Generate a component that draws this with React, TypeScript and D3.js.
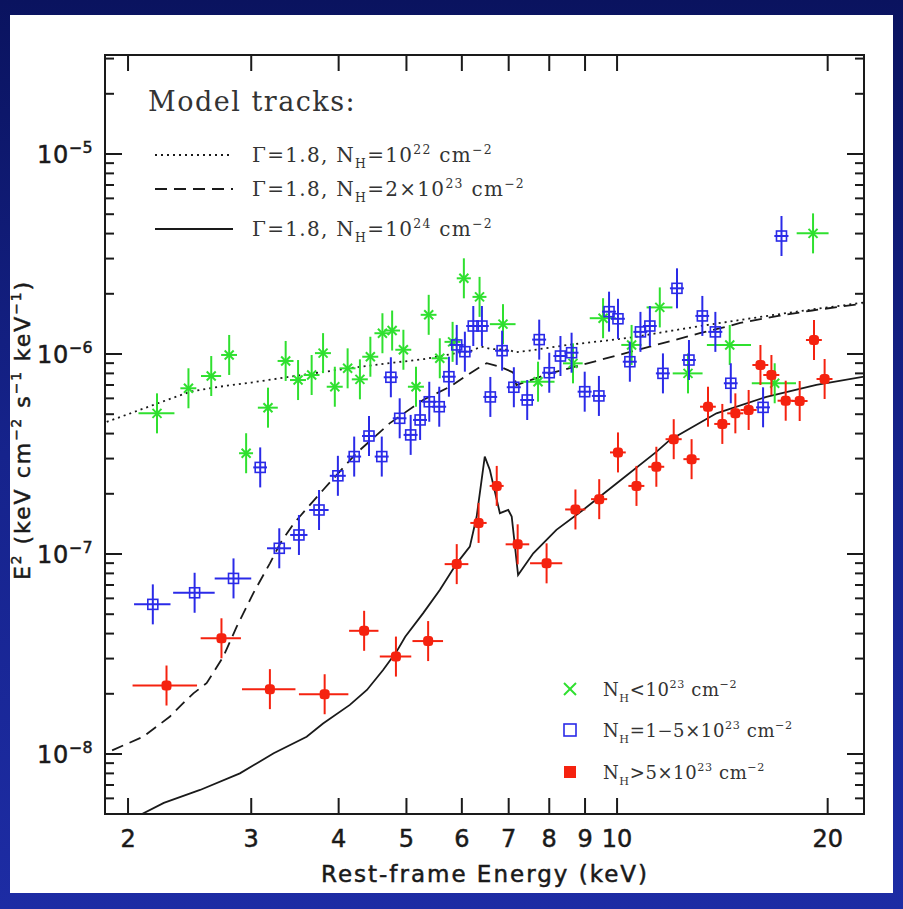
import React from "react";
import * as d3 from "d3";

// ---- canvas and plot frame ----
const W = 903;
const H = 909;
const FRAME = { left: 105, right: 864, top: 55, bottom: 814 };

// ---- axes ----
const X_DOMAIN = [1.854, 22.54];
const Y_DOMAIN = [Math.pow(10, -8.3), Math.pow(10, -4.505)];
const X_TICKS = [2, 3, 4, 5, 6, 7, 8, 9, 10, 20];
const Y_DECADES = [-8, -7, -6, -5];
const X_TITLE = "Rest-frame Energy (keV)";

// ---- model tracks (E in keV, E^2 F(E)) ----
const DOTTED_E = [1.8, 1.865, 2.0, 2.2, 2.455, 2.7, 3.0, 3.41, 3.8, 4.24, 4.8, 5.3, 5.8, 6.2, 6.4, 6.6, 7.0, 7.15, 7.5, 8.5, 9.5, 10.5, 12, 13.5, 15, 17, 19, 21, 22.6];
const DOTTED_F = [4.3e-7, 4.58e-7, 5.0e-7, 5.65e-7, 6.48e-7, 6.86e-7, 7.2e-7, 7.7e-7, 8.13e-7, 8.58e-7, 9.06e-7, 9.43e-7, 1.0e-6, 1.04e-6, 1.09e-6, 1.06e-6, 1.05e-6, 1.02e-6, 1.04e-6, 1.11e-6, 1.16e-6, 1.21e-6, 1.31e-6, 1.4e-6, 1.48e-6, 1.58e-6, 1.67e-6, 1.75e-6, 1.81e-6];

const DASHED_E = [1.8, 1.865, 2.0, 2.103, 2.296, 2.4, 2.48, 2.59, 2.736, 2.86, 3.02, 3.19, 3.3, 3.45, 3.52, 3.8, 4.24, 4.73, 5.28, 5.77, 6.16, 6.4, 6.51, 6.8, 7.1, 7.18, 8.02, 9.45, 11.14, 13.13, 14.33, 15, 17, 19, 21, 22.6];
const DASHED_F = [9.3e-9, 1.015e-8, 1.13e-8, 1.22e-8, 1.54e-8, 1.8e-8, 2.01e-8, 2.26e-8, 3.06e-8, 4.33e-8, 6.36e-8, 8.98e-8, 1.13e-7, 1.42e-7, 1.54e-7, 2.09e-7, 3.19e-7, 4.5e-7, 5.89e-7, 6.86e-7, 8.0e-7, 8.7e-7, 9.0e-7, 8.64e-7, 8.1e-7, 7.0e-7, 8.0e-7, 9.33e-7, 1.088e-6, 1.27e-6, 1.37e-6, 1.43e-6, 1.55e-6, 1.65e-6, 1.73e-6, 1.79e-6];

const SOLID_E = [2.0, 2.08, 2.25, 2.455, 2.535, 2.89, 3.23, 3.6, 3.8, 4.15, 4.39, 4.63, 4.84, 4.98, 5.28, 5.58, 5.9, 6.16, 6.3, 6.47, 6.58, 6.8, 6.99, 7.07, 7.22, 7.59, 8.19, 8.94, 9.98, 11.38, 11.9, 13.87, 16.35, 19.27, 22.6];
const SOLID_F = [4.5e-9, 4.95e-9, 5.7e-9, 6.36e-9, 6.61e-9, 8.0e-9, 1.008e-8, 1.22e-8, 1.42e-8, 1.76e-8, 2.09e-8, 2.63e-8, 3.25e-8, 3.86e-8, 5.05e-8, 6.61e-8, 8.98e-8, 1.088e-7, 1.54e-7, 3.07e-7, 2.63e-7, 1.6e-7, 1.66e-7, 1.54e-7, 7.85e-8, 1.008e-7, 1.32e-7, 1.66e-7, 2.25e-7, 3.24e-7, 3.72e-7, 5.05e-7, 6.11e-7, 7.0e-7, 7.72e-7];

// ---- measured spectra: [E (keV), E^2 F(E), half bin width (keV)] ----
const GREEN_PTS = [
  [2.2, 5.05e-7, 0.13], [2.44, 6.74e-7, 0.064], [2.63, 7.76e-7, 0.087], [2.79, 9.89e-7, 0.073],
  [2.95, 3.19e-7, 0.068], [3.17, 5.39e-7, 0.104], [3.36, 9.23e-7, 0.088], [3.5, 7.41e-7, 0.092],
  [3.66, 7.85e-7, 0.096], [3.8, 1.01e-6, 0.1], [3.95, 6.86e-7, 0.104], [4.12, 8.48e-7, 0.108],
  [4.29, 7.47e-7, 0.113], [4.44, 9.69e-7, 0.117], [4.62, 1.27e-6, 0.12], [4.77, 1.31e-6, 0.125],
  [4.95, 1.05e-6, 0.13], [5.16, 6.86e-7, 0.136], [5.38, 1.57e-6, 0.14], [5.58, 9.52e-7, 0.147],
  [5.82, 1.15e-6, 0.153], [6.04, 2.39e-6, 0.14], [6.36, 1.93e-6, 0.146], [6.87, 1.41e-6, 0.29],
  [7.71, 7.27e-7, 0.43], [8.65, 8.98e-7, 0.28], [9.55, 1.51e-6, 0.41], [10.49, 1.11e-6, 0.35],
  [11.51, 1.71e-6, 0.49], [12.63, 8.0e-7, 0.62], [14.49, 1.11e-6, 1.05], [16.8, 7.14e-7, 1.22],
  [19.06, 4.01e-6, 1.0],
];
const BLUE_PTS = [
  [2.17, 5.6e-8, 0.13], [2.49, 6.4e-8, 0.17], [2.83, 7.55e-8, 0.17], [3.09, 2.71e-7, 0.07],
  [3.29, 1.068e-7, 0.13], [3.51, 1.245e-7, 0.1], [3.75, 1.66e-7, 0.12], [3.99, 2.46e-7, 0.105],
  [4.21, 3.07e-7, 0.097], [4.42, 3.89e-7, 0.1], [4.61, 3.07e-7, 0.106], [4.75, 7.65e-7, 0.11],
  [4.89, 4.77e-7, 0.11], [5.07, 3.94e-7, 0.117], [5.23, 4.68e-7, 0.12], [5.39, 5.77e-7, 0.124],
  [5.57, 5.45e-7, 0.128], [5.75, 7.7e-7, 0.13], [5.9, 1.11e-6, 0.136], [6.06, 1.027e-6, 0.14],
  [6.23, 1.38e-6, 0.143], [6.41, 1.38e-6, 0.147], [6.59, 6.1e-7, 0.15], [6.85, 1.039e-6, 0.158],
  [7.12, 6.82e-7, 0.164], [7.44, 5.89e-7, 0.17], [7.74, 1.18e-6, 0.178], [8.0, 8.06e-7, 0.184],
  [8.3, 9.77e-7, 0.19], [8.61, 1.015e-6, 0.198], [8.99, 6.48e-7, 0.207], [9.42, 6.17e-7, 0.217],
  [9.74, 1.628e-6, 0.224], [10.03, 1.5e-6, 0.23], [10.43, 9.15e-7, 0.24], [10.8, 1.29e-6, 0.248],
  [11.14, 1.38e-6, 0.256], [11.63, 8.0e-7, 0.267], [12.18, 2.13e-6, 0.28], [12.67, 9.33e-7, 0.29],
  [13.24, 1.55e-6, 0.3], [13.82, 1.29e-6, 0.32], [14.54, 7.14e-7, 0.33], [16.17, 5.41e-7, 0.37],
  [17.18, 3.89e-6, 0.4],
];
const RED_PTS = [
  [2.27, 2.2e-8, 0.24], [2.72, 3.79e-8, 0.18], [3.19, 2.11e-8, 0.28], [3.82, 1.99e-8, 0.31],
  [4.35, 4.13e-8, 0.21], [4.83, 3.07e-8, 0.25], [5.37, 3.67e-8, 0.27], [5.9, 8.9e-8, 0.23],
  [6.34, 1.43e-7, 0.17], [6.73, 2.19e-7, 0.155], [7.21, 1.118e-7, 0.28], [7.93, 8.98e-8, 0.42],
  [8.72, 1.67e-7, 0.29], [9.43, 1.88e-7, 0.25], [10.03, 3.22e-7, 0.26], [10.66, 2.19e-7, 0.28],
  [11.38, 2.73e-7, 0.3], [12.05, 3.75e-7, 0.32], [12.78, 2.98e-7, 0.34], [13.49, 5.45e-7, 0.35],
  [14.14, 4.47e-7, 0.37], [14.76, 5.05e-7, 0.39], [15.42, 5.25e-7, 0.41], [16.03, 8.81e-7, 0.42],
  [16.62, 7.85e-7, 0.44], [17.42, 5.84e-7, 0.46], [18.24, 5.82e-7, 0.48], [19.12, 1.175e-6, 0.5],
  [19.8, 7.5e-7, 0.52],
];
// vertical error half-length, in dex
const Y_ERR_DEX = 0.1;

const COLORS = { green: "#2fe02f", blue: "#2a2ae8", red: "#f5220f", ink: "#1a1a1a", text: "#333333" };

type Seg = { t: string; k?: "sub" | "sup" };
const MODEL_LABELS: Seg[][] = [
  [{ t: "Γ=1.8, N" }, { t: "H", k: "sub" }, { t: "=10" }, { t: "22", k: "sup" }, { t: " cm" }, { t: "−2", k: "sup" }],
  [{ t: "Γ=1.8, N" }, { t: "H", k: "sub" }, { t: "=2×10" }, { t: "23", k: "sup" }, { t: " cm" }, { t: "−2", k: "sup" }],
  [{ t: "Γ=1.8, N" }, { t: "H", k: "sub" }, { t: "=10" }, { t: "24", k: "sup" }, { t: " cm" }, { t: "−2", k: "sup" }],
];
const GROUP_LABELS: Seg[][] = [
  [{ t: "N" }, { t: "H", k: "sub" }, { t: "<10" }, { t: "23", k: "sup" }, { t: " cm" }, { t: "−2", k: "sup" }],
  [{ t: "N" }, { t: "H", k: "sub" }, { t: "=1−5×10" }, { t: "23", k: "sup" }, { t: " cm" }, { t: "−2", k: "sup" }],
  [{ t: "N" }, { t: "H", k: "sub" }, { t: ">5×10" }, { t: "23", k: "sup" }, { t: " cm" }, { t: "−2", k: "sup" }],
];
const Y_TITLE: Seg[] = [
  { t: "E" }, { t: "2", k: "sup" }, { t: " (keV cm" }, { t: "−2", k: "sup" }, { t: " s" }, { t: "−1", k: "sup" },
  { t: " keV" }, { t: "−1", k: "sup" }, { t: ")" },
];

function spans(segs: Seg[], size: number, supScale = 0.62) {
  let cur = 0;
  return segs.map((s, i) => {
    const target = s.k === "sup" ? -0.42 * size : s.k === "sub" ? 0.32 * size : 0;
    const dy = target - cur;
    cur = target;
    return (
      <tspan key={i} dy={dy} fontSize={s.k ? size * supScale : size}>
        {s.t}
      </tspan>
    );
  });
}

const SERIF = "'DejaVu Serif', 'Liberation Serif', serif";
const SANS = "'DejaVu Sans', 'Liberation Sans', sans-serif";

export default function App() {
  const x = d3.scaleLog().domain(X_DOMAIN).range([FRAME.left, FRAME.right]);
  const y = d3.scaleLog().domain(Y_DOMAIN).range([FRAME.bottom, FRAME.top]);

  const line = d3
    .line<[number, number]>()
    .x((d) => x(d[0]))
    .y((d) => y(d[1]));
  const track = (es: number[], fs: number[]) => line(es.map((e, i) => [e, fs[i]] as [number, number])) || "";

  const yMinor: number[] = [];
  for (let k = -9; k <= -5; k++) {
    for (let m = 2; m <= 9; m++) {
      const v = m * Math.pow(10, k);
      if (v >= Y_DOMAIN[0] && v <= Y_DOMAIN[1]) yMinor.push(v);
    }
  }

  const errBars = (pts: number[][], color: string) =>
    pts.map((p, i) => {
      const [e, f, de] = p;
      const cx = x(e);
      const cy = y(f);
      return (
        <g key={i} stroke={color} strokeWidth={2}>
          <line x1={x(e - de)} x2={x(e + de)} y1={cy} y2={cy} />
          <line x1={cx} x2={cx} y1={y(f * Math.pow(10, Y_ERR_DEX))} y2={y(f * Math.pow(10, -Y_ERR_DEX))} />
        </g>
      );
    });

  const cross = (cx: number, cy: number, r: number, color: string, key?: number) => (
    <g key={key} stroke={color} strokeWidth={2}>
      <line x1={cx - r} x2={cx + r} y1={cy - r} y2={cy + r} />
      <line x1={cx - r} x2={cx + r} y1={cy + r} y2={cy - r} />
    </g>
  );

  const legendX = 155;
  const legendRows = [155, 189, 229];
  const dashes = ["2 4", "12 7", "none"];
  // a hairline outline gives the labels a medium weight
  const labelStroke = { stroke: COLORS.ink, strokeWidth: 0.5 };

  return (
    <svg width={W} height={H} style={{ position: "absolute", left: 0, top: 0, display: "block" }}>
      <defs>
        <linearGradient id="bg" x1="0" y1="0" x2="0" y2="1">
          <stop offset="0" stopColor="#0a135f" />
          <stop offset="0.5" stopColor="#16238c" />
          <stop offset="1" stopColor="#1d2ca4" />
        </linearGradient>
        <clipPath id="plotClip">
          <rect x={FRAME.left} y={FRAME.top} width={FRAME.right - FRAME.left} height={FRAME.bottom - FRAME.top} />
        </clipPath>
      </defs>

      <rect x={0} y={0} width={W} height={H} fill="url(#bg)" />
      <rect x={10} y={15} width={883} height={878} fill="#ffffff" />

      {/* model tracks */}
      <g clipPath="url(#plotClip)" fill="none" stroke={COLORS.ink} strokeWidth={1.8}>
        <path d={track(DOTTED_E, DOTTED_F)} strokeDasharray="2 4" />
        <path d={track(DASHED_E, DASHED_F)} strokeDasharray="12 7" />
        <path d={track(SOLID_E, SOLID_F)} />
      </g>

      {/* measured points */}
      <g clipPath="url(#plotClip)">
        {errBars(GREEN_PTS, COLORS.green)}
        {GREEN_PTS.map((p, i) => cross(x(p[0]), y(p[1]), 4.5, COLORS.green, i))}
        {errBars(BLUE_PTS, COLORS.blue)}
        {BLUE_PTS.map((p, i) => (
          <rect key={i} x={x(p[0]) - 5} y={y(p[1]) - 5} width={10} height={10} fill="none" stroke={COLORS.blue} strokeWidth={1.6} />
        ))}
        {errBars(RED_PTS, COLORS.red)}
        {RED_PTS.map((p, i) => (
          <rect key={i} x={x(p[0]) - 5} y={y(p[1]) - 5} width={10} height={10} rx={3.5} fill={COLORS.red} />
        ))}
      </g>

      {/* frame and ticks */}
      <g stroke={COLORS.ink} strokeWidth={2}>
        <rect x={FRAME.left} y={FRAME.top} width={FRAME.right - FRAME.left} height={FRAME.bottom - FRAME.top} fill="none" />
        {X_TICKS.map((t) => (
          <g key={t}>
            <line x1={x(t)} x2={x(t)} y1={FRAME.bottom} y2={FRAME.bottom - 16} />
            <line x1={x(t)} x2={x(t)} y1={FRAME.top} y2={FRAME.top + 16} />
          </g>
        ))}
        {Y_DECADES.map((k) => {
          const yy = y(Math.pow(10, k));
          return (
            <g key={k}>
              <line x1={FRAME.left} x2={FRAME.left + 17} y1={yy} y2={yy} />
              <line x1={FRAME.right} x2={FRAME.right - 17} y1={yy} y2={yy} />
            </g>
          );
        })}
        {yMinor.map((v, i) => {
          const yy = y(v);
          return (
            <g key={i}>
              <line x1={FRAME.left} x2={FRAME.left + 9} y1={yy} y2={yy} />
              <line x1={FRAME.right} x2={FRAME.right - 9} y1={yy} y2={yy} />
            </g>
          );
        })}
      </g>

      {/* tick labels */}
      <g fontFamily={SANS} fill={COLORS.ink} fontSize={24} {...labelStroke}>
        {X_TICKS.map((t) => (
          <text key={t} x={x(t)} y={FRAME.bottom + 33} textAnchor="middle">
            {t}
          </text>
        ))}
        {Y_DECADES.map((k) => (
          <text key={k} x={93} y={y(Math.pow(10, k)) + 9} textAnchor="end" letterSpacing={0.5}>
            {spans([{ t: "10" }, { t: "−" + Math.abs(k), k: "sup" }], 24, 0.66)}
          </text>
        ))}
      </g>

      {/* axis titles */}
      <text x={485} y={882} textAnchor="middle" fontFamily={SANS} fontSize={23} letterSpacing={2} fill={COLORS.ink} {...labelStroke}>
        {X_TITLE}
      </text>
      <text
        transform={`translate(30, 430) rotate(-90)`}
        textAnchor="middle"
        fontFamily={SANS}
        fontSize={22}
        letterSpacing={2}
        fill={COLORS.ink}
        {...labelStroke}
      >
        {spans(Y_TITLE, 22)}
      </text>

      {/* model legend */}
      <text x={148} y={111} fontFamily={SERIF} fontSize={27} fill={COLORS.text} letterSpacing={1.5}>
        Model tracks:
      </text>
      {legendRows.map((ly, i) => (
        <g key={i}>
          <line x1={legendX} x2={legendX + 78} y1={ly} y2={ly} stroke={COLORS.ink} strokeWidth={1.8} strokeDasharray={dashes[i]} />
          <text x={252} y={ly + 7} fontFamily={SERIF} fontSize={20} fill={COLORS.text} letterSpacing={1.3}>
            {spans(MODEL_LABELS[i], 20)}
          </text>
        </g>
      ))}

      {/* group legend */}
      {cross(570, 689, 6, COLORS.green)}
      <rect x={564} y={724} width={12} height={12} fill="none" stroke={COLORS.blue} strokeWidth={1.6} />
      <rect x={564} y={766} width={12} height={12} fill={COLORS.red} />
      {[689, 730, 772].map((ly, i) => (
        <text key={i} x={603} y={ly + 7} fontFamily={SERIF} fontSize={18} fill={COLORS.text} letterSpacing={0.6}>
          {spans(GROUP_LABELS[i], 18)}
        </text>
      ))}
    </svg>
  );
}
